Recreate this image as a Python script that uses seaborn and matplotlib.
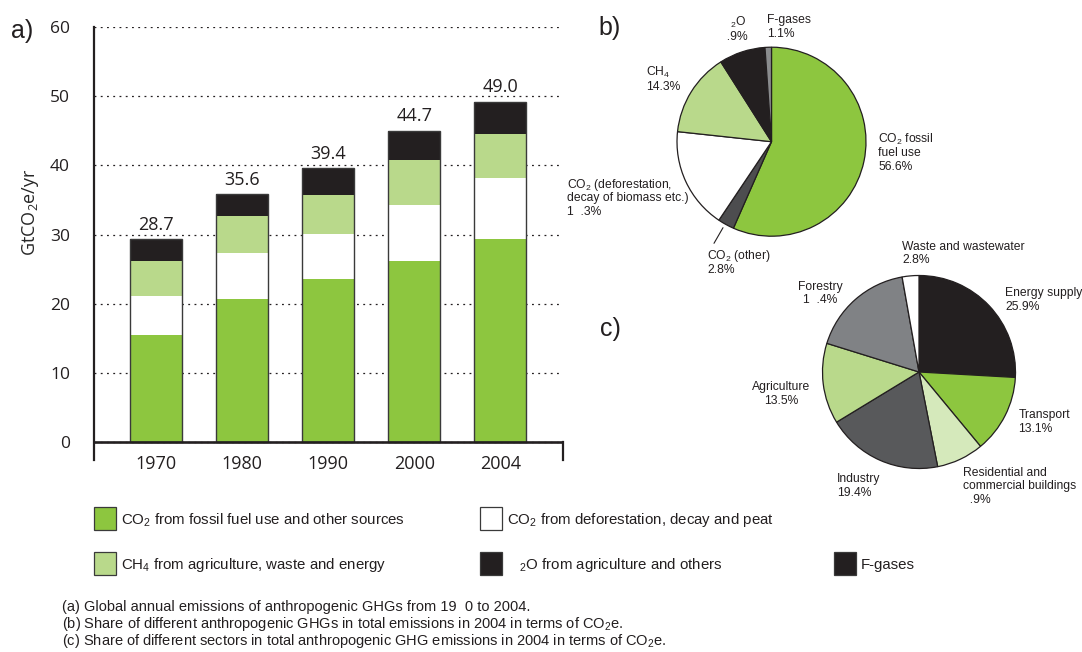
import matplotlib
matplotlib.use("Agg")
import matplotlib.pyplot as plt
from matplotlib.patches import Rectangle
import pandas as pd
import seaborn as sns

# --- data (GtCO2e/yr) ---
years = ["1970", "1980", "1990", "2000", "2004"]
co2_fossil = [15.5, 20.7, 23.6, 26.2, 29.4]
co2_defor = [5.7, 6.7, 6.5, 8.1, 8.8]
ch4 = [5.0, 5.3, 5.6, 6.5, 6.3]
n2o = [2.8, 2.8, 3.5, 3.7, 4.1]
fgas = [0.3, 0.3, 0.4, 0.5, 0.6]
total_labels = ["28.7", "35.6", "39.4", "44.7", "49.0"]

# pie b: share of gases 2004 (%)
gas_shares = [56.6, 2.8, 17.3, 14.3, 7.9, 1.1]
# pie c: share of sectors 2004 (%)
sector_shares = [25.9, 13.1, 7.9, 19.4, 13.5, 17.4, 2.8]

GREEN = "#8dc63f"
LGREEN = "#b9d98b"
VLGREEN = "#d5e9bb"
BLACK = "#231f20"
DGREY = "#4d4d4f"
TXT = "#231f20"

sns.set_style("white")
plt.rcParams["font.family"] = ["Open Sans", "DejaVu Sans"]
plt.rcParams["text.color"] = TXT

W, H = 1082, 652
fig = plt.figure(figsize=(W / 100, H / 100), dpi=100)


def px_axes(left, top, right, bottom, **kw):
    return fig.add_axes([left / W, 1 - bottom / H, (right - left) / W, (bottom - top) / H], **kw)


# ---------------- a) stacked bars ----------------
ax = px_axes(94.3, 26.7, 563.3, 459.8)
df = pd.DataFrame({"year": years, "fossil": co2_fossil, "defor": co2_defor,
                   "ch4": ch4, "n2o": n2o, "fgas": fgas})
cols = ["fossil", "defor", "ch4", "n2o", "fgas"]
colors = [GREEN, "white", LGREEN, BLACK, BLACK]
cum = df[cols].cumsum(axis=1)
bw = 0.604
for col, c in reversed(list(zip(cols, colors))):
    sns.barplot(x=df["year"], y=cum[col], color=c, saturation=1, width=bw,
                linewidth=0, errorbar=None, ax=ax, zorder=2)
sns.barplot(x=df["year"], y=cum["fgas"], color="#3a3a3a", fill=False, width=bw,
            linewidth=1.0, errorbar=None, ax=ax, zorder=3)

ax.set_xlim(-0.72, 4.73)
ax.set_ylim(-2.5, 60)
ax.set_yticks(range(0, 61, 10))
ax.set_xticks([])
ax.set_xlabel("")
ax.set_axisbelow(True)
ax.yaxis.grid(True, linestyle=(0, (1.5, 3.5)), color=TXT, linewidth=0.9)
ax.axhline(0, color=TXT, linewidth=1.9, zorder=4)
for s in ["top", "bottom"]:
    ax.spines[s].set_visible(False)
for s in ["left", "right"]:
    ax.spines[s].set_color(TXT)
    ax.spines[s].set_linewidth(1.6)
ax.spines["right"].set_bounds(-2.5, 0)
ax.tick_params(axis="y", direction="out", length=12, width=1.6, pad=5.5,
               labelsize=12.5, color=TXT, labelcolor=TXT)
ax.set_ylabel(r"GtCO$_\mathdefault{2}$e/yr", fontsize=13)
ax.yaxis.set_label_coords(-0.113, 0.572)

for i, yr in enumerate(years):
    ax.text(i, -3.87, yr, ha="center", va="baseline", fontsize=13, clip_on=False)
    ax.text(i, cum["fgas"][i] + 1.35, total_labels[i], ha="center", va="baseline", fontsize=13)

# ---------------- b) gas pie ----------------
gas_colors = [GREEN, DGREY, "white", LGREEN, BLACK, "#8a8c8e"]
r, cx, cy = 94.5 * 1.02, 771.5, 141.7
axb = px_axes(cx - r, cy - r, cx + r, cy + r)
axb.pie(gas_shares, colors=gas_colors, startangle=90, counterclock=False,
        wedgeprops=dict(edgecolor=BLACK, linewidth=0.9))
axb.set_xlim(-1.02, 1.02)
axb.set_ylim(-1.02, 1.02)

# ---------------- c) sector pie ----------------
sector_colors = [BLACK, GREEN, VLGREEN, "#58595b", LGREEN, "#808285", "white"]
r, cx, cy = 96.5 * 1.02, 919.0, 372.0
axc = px_axes(cx - r, cy - r, cx + r, cy + r)
axc.pie(sector_shares, colors=sector_colors, startangle=90, counterclock=False,
        wedgeprops=dict(edgecolor=BLACK, linewidth=0.9))
axc.set_xlim(-1.02, 1.02)
axc.set_ylim(-1.02, 1.02)

# ---------------- overlay for labels, legend, caption ----------------
ov = fig.add_axes([0, 0, 1, 1], facecolor="none")
ov.set_xlim(0, W)
ov.set_ylim(H, 0)
ov.axis("off")

ARIAL = ["Liberation Sans", "DejaVu Sans"]
ov.text(22, 38, "a)", fontsize=18, family=ARIAL, ha="center", va="baseline")
ov.text(610, 35, "b)", fontsize=18, family=ARIAL, ha="center", va="baseline")
ov.text(610, 336, "c)", fontsize=18, family=ARIAL, ha="center", va="baseline")

# (x, baseline of the last line, alignment, text)
pie_labels = [
    (767, 36.7, "left", "F-gases\n1.1%"),
    (719.5, 40, "left", "   $_\\mathdefault{2}$O\n  .9%"),
    (646, 90, "left", "CH$_\\mathdefault{4}$\n14.3%"),
    (878.3, 170, "left", "CO$_\\mathdefault{2}$ fossil\nfuel use\n56.6%"),
    (566.7, 215, "left", "CO$_\\mathdefault{2}$ (deforestation,\ndecay of biomass etc.)\n1  .3%"),
    (707.3, 273, "left", "CO$_\\mathdefault{2}$ (other)\n2.8%"),
    (902.3, 263.3, "left", "Waste and wastewater\n2.8%"),
    (1005, 310, "left", "Energy supply\n25.9%"),
    (820, 303.3, "center", "Forestry\n1  .4%"),
    (781, 404, "center", "Agriculture\n13.5%"),
    (1018.3, 431.7, "left", "Transport\n13.1%"),
    (836.7, 495.7, "left", "Industry\n19.4%"),
    (962.7, 502.7, "left", "Residential and\ncommercial buildings\n  .9%"),
]
step = 13.6
for x, y, ha, s in pie_labels:
    lines = s.split("\n")
    for k, line in enumerate(lines):
        yk = y - (len(lines) - 1 - k) * step
        ov.text(x, yk, line, fontsize=8.7, family=ARIAL, ha=ha, va="baseline")
ov.plot([723, 714], [227.7, 243.3], color=BLACK, linewidth=0.8)

legend_items = [
    (94, 507, GREEN, "CO$_\\mathdefault{2}$ from fossil fuel use and other sources"),
    (480, 507, "white", "CO$_\\mathdefault{2}$ from deforestation, decay and peat"),
    (94, 552, LGREEN, "CH$_\\mathdefault{4}$ from agriculture, waste and energy"),
    (480, 552, BLACK, "   $_\\mathdefault{2}$O from agriculture and others"),
    (834, 552, BLACK, "F-gases"),
]
for x, y, c, s in legend_items:
    ov.add_patch(Rectangle((x, y), 22, 23, facecolor=c, edgecolor="#3a3a3a", linewidth=0.9))
    ov.text(x + 27, y + 17, s, fontsize=10.8, family=ARIAL, va="baseline")

captions = [
    "(a) Global annual emissions of anthropogenic GHGs from 19  0 to 2004.",
    "(b) Share of different anthropogenic GHGs in total emissions in 2004 in terms of CO$_\\mathdefault{2}$e.",
    "(c) Share of different sectors in total anthropogenic GHG emissions in 2004 in terms of CO$_\\mathdefault{2}$e.",
]
for i, s in enumerate(captions):
    ov.text(62, 610.5 + 17.3 * i, s, fontsize=10.5, family=ARIAL, va="baseline")

fig.savefig("out.png", dpi=100)
